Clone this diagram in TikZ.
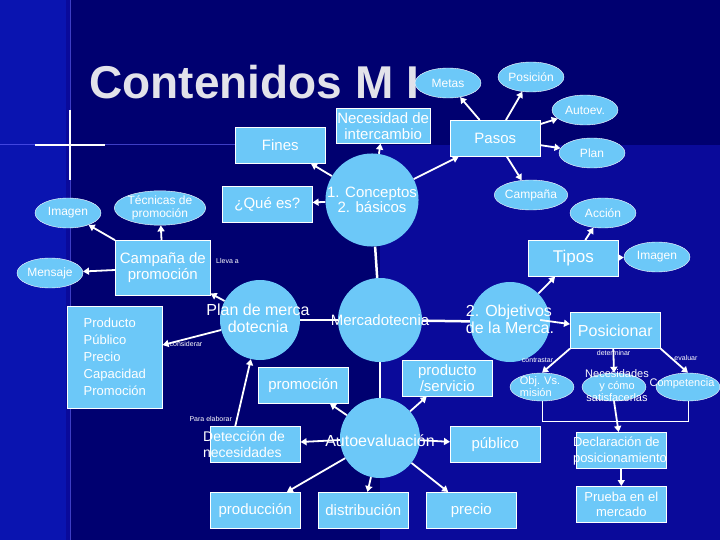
\documentclass[tikz,border=0pt]{standalone}
\usepackage{fontspec}
\setmainfont{Liberation Sans}
\usetikzlibrary{shapes.geometric,arrows.meta}
\definecolor{bgA}{HTML}{0A0A9A}
\definecolor{bgB}{HTML}{000070}
\definecolor{bgL}{HTML}{0A14B0}
\definecolor{lb}{HTML}{6CC8F8}
\definecolor{ttl}{HTML}{E2E2EA}
\tikzset{
 box/.style={draw=white,line width=0.6pt,fill=lb,text=white,minimum width=90pt,minimum height=36pt,font=\fontsize{15}{16}\selectfont,align=center,inner sep=1pt},
 ell/.style={ellipse,fill=lb,draw=white,line width=0.4pt,text=white,minimum width=66pt,minimum height=30pt,font=\fontsize{12}{13}\selectfont,align=center,inner sep=0pt},
 circ/.style={circle,fill=lb,text=white,minimum size=#1,font=\fontsize{15}{15}\selectfont,align=center,inner sep=0pt},
 arr/.style={draw=white,line width=1.8pt,-{Triangle[length=6pt,width=7pt]}},
 ln/.style={draw=white,line width=2.5pt},
 lab/.style={text=white,font=\fontsize{7}{8}\selectfont,inner sep=0pt}
}
\begin{document}
\begin{tikzpicture}[x=1pt,y=-1pt]
\useasboundingbox (0,0) rectangle (720,540);
\fill[bgA] (0,0) rectangle (720,540);
\fill[bgB] (70,0) rectangle (720,145);
\fill[bgB] (70,145) rectangle (720,540);
\fill[bgA] (380,145) rectangle (720,540);
\fill[bgL] (0,0) rectangle (66,540);
\draw[blue!60!white,line width=1pt,opacity=0.6] (70,0) -- (70,540);
\draw[blue!60!white,line width=1pt,opacity=0.6] (0,145) -- (240,145);
\draw[white,line width=1.5pt] (70,110) -- (70,180) (35,145) -- (105,145);

\node[text=ttl,font=\fontsize{46}{46}\selectfont\bfseries,anchor=west] (title) at (86,82) {Contenidos M I};

% nodes
\node[box,anchor=north west] (fines) at (235,127) {Fines};
\node[box,anchor=north west,minimum width=92pt,minimum height=35pt] (nec) at (336,108) {Necesidad de\\intercambio};
\node[box,anchor=north west] (que) at (222,186) {¿Qué es?};
\node[ell] (tec) at (160,208) {Técnicas de\\promoción};
\node[ell] (img) at (68,213) {Imagen};
\node[ell] (men) at (50,273) {Mensaje};
\node[box,anchor=north west,minimum width=95pt,minimum height=55pt] (camp) at (115,240) {Campaña de\\promoción};
\node[circ=84pt] (conc) at (372,200) {1. Conceptos\\2. básicos};
\node[box,anchor=north west] (pasos) at (450,120) {Pasos};
\node[ell] (metas) at (448,83) {Metas};
\node[ell] (pos) at (531,77) {Posición};
\node[ell] (aut) at (585,110) {Autoev.};
\node[ell] (plan) at (592,153) {Plan};
\node[ell] (campe) at (531,195) {Campaña};
\node[ell] (acc) at (603,213) {Acción};
\node[box,anchor=north west,font=\fontsize{17}{18}\selectfont] (tipos) at (528,240) {Tipos};
\node[ell] (img2) at (657,257) {Imagen};
\node[circ=80pt] (pm) at (260,320) {};
\node[circ=84pt] (merc) at (380,320) {};
\node[circ=80pt] (obj) at (510,322) {};
\node[box,anchor=north west,font=\fontsize{16}{17}\selectfont] (posic) at (570,312) {Posicionar};
\node[box,anchor=north west,minimum width=95pt,minimum height=102pt,align=left,font=\fontsize{13}{17}\selectfont] (prod) at (67,306) {Producto\\Público\\Precio\\Capacidad\\Promoción};
\node[box,anchor=north west] (promo) at (258,367) {promoción};
\node[box,anchor=north west] (ps) at (402,360) {producto\\/servicio};
\node[circ=80pt] (auto) at (380,438) {};
\node[box,anchor=north west] (det) at (210,426) {};
\node[box,anchor=north west] (pub) at (450,426) {público};
\node[box,anchor=north west] (prodn) at (210,492) {producción};
\node[box,anchor=north west] (dist) at (318,492) {distribución};
\node[box,anchor=north west] (prec) at (426,492) {precio};
\node[ell,minimum width=64pt,minimum height=28pt] (ovm) at (542,387) {};
\node[ell,minimum width=64pt,minimum height=28pt] (nes) at (614,387) {};
\node[ell,minimum width=64pt,minimum height=28pt] (comp) at (688,387) {};
\node[box,anchor=north west] (decl) at (576,432) {};
\node[box,anchor=north west,font=\fontsize{13}{15}\selectfont] (prueba) at (576,486) {Prueba en el\\mercado};

% texts overlaying
\node[text=white,font=\fontsize{16}{17}\selectfont,align=center] (pmt) at (258,318) {Plan de merca\\dotecnia};
\node[text=white,font=\fontsize{15}{15}\selectfont] (mt) at (380,320) {Mercadotecnia};
\node[text=white,font=\fontsize{16}{17}\selectfont,align=left] (ot) at (510,319) {2. Objetivos\\de la Merca.};
\node[text=white,font=\fontsize{16}{16}\selectfont] (at) at (380,441) {Autoevaluación};
\node[text=white,font=\fontsize{14}{16}\selectfont,align=left] (dt) at (244,444) {Detección de\\necesidades};
\node[text=white,font=\fontsize{11}{12}\selectfont,align=left] (ot2) at (540,387) {Obj. Vs.\\misión};
\node[text=white,font=\fontsize{11}{12}\selectfont,align=center] (nt) at (617,386) {Necesidades\\y cómo\\satisfacerlas};
\node[text=white,font=\fontsize{11}{12}\selectfont] (ct) at (682,384) {Competencia};
\node[text=white,font=\fontsize{13}{16}\selectfont,align=left] (dct) at (620,451) {Declaración de\\posicionamiento};

% connectors
\draw[arr] (conc) -- (fines);
\draw[arr] (conc) -- (que);
\draw[arr] (conc) -- (nec);
\draw[arr] (conc) -- (pasos);
\draw[arr] (pasos) -- (metas);
\draw[arr] (pasos) -- (pos);
\draw[arr] (pasos) -- (aut);
\draw[arr] (pasos) -- (plan);
\draw[arr] (pasos) -- (campe);
\draw[ln] (conc) -- (merc);
\draw[ln] (pm) -- (merc);
\draw[ln] (merc) -- (obj);
\draw[ln] (merc) -- (auto);
\draw[arr] (pm) -- (camp);
\node[lab,anchor=west] (ll) at (216,261) {Lleva a};
\draw[arr] (camp) -- (img);
\draw[arr] (camp) -- (men);
\draw[arr] (camp) -- (tec);
\draw[arr] (pm) -- (prod) node[lab,pos=0.6,below=2pt] (lc) {considerar};
\draw[arr] (det.north) ++(-20,0) coordinate (d0) (d0) -- (pm) node[lab,pos=0.1,left=4pt] (lp) {Para elaborar};
\draw[arr] (auto) -- (promo);
\draw[arr] (auto) -- (ps);
\draw[arr] (auto) -- (det);
\draw[arr] (auto) -- (pub);
\draw[arr] (auto) -- (prodn);
\draw[arr] (auto) -- (dist);
\draw[arr] (auto) -- (prec);
\draw[arr] (obj) -- (tipos);
\draw[arr] (tipos) -- (acc);
\draw[arr] (tipos) -- (img2);
\draw[arr] (obj.east) ++(-10,-2) coordinate (o0) (o0) -- (posic);
\draw[arr] (posic.south west) -- (ovm.north) node[lab,pos=0.5,left=2pt] (lct) {contrastar};
\draw[arr] (posic.south) ++(-2,0) coordinate (p0) (p0) -- (nes.north) node[lab,pos=0.4,above=2pt] (ld) {determinar};
\draw[arr] (posic.south east) -- (comp.north) node[lab,pos=0.4,right=2pt] (le) {evaluar};
\draw[white,line width=1pt] (ovm.south) -- ++(0,20) coordinate (b1) -| (comp.south);
\draw[arr] (nes.south) -- (decl);
\draw[arr] (decl) -- (prueba);
\end{tikzpicture}
\end{document}
